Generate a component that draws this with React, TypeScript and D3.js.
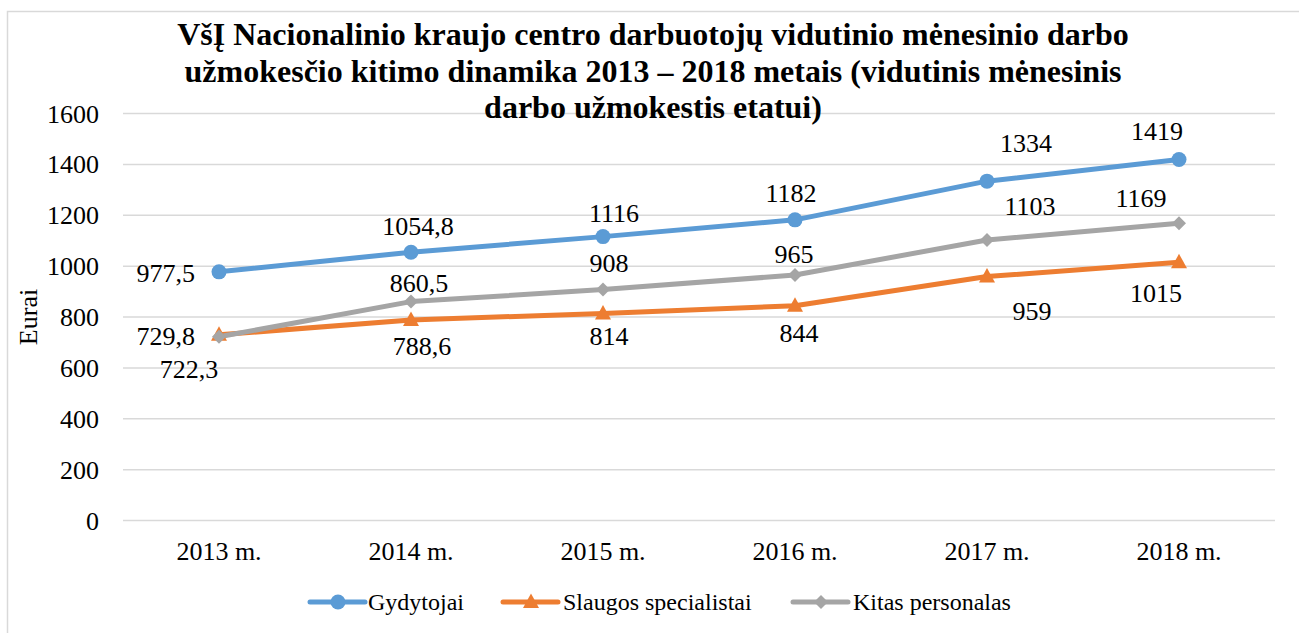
import React from "react";
import * as d3 from "d3";

const categories = ["2013 m.", "2014 m.", "2015 m.", "2016 m.", "2017 m.", "2018 m."];
const gydytojai = [977.5, 1054.8, 1116, 1182, 1334, 1419];
const slaugos = [729.8, 788.6, 814, 844, 959, 1015];
const kitas = [722.3, 860.5, 908, 965, 1103, 1169];
const yTicks = [0, 200, 400, 600, 800, 1000, 1200, 1400, 1600];
const titleLines = [
  "VšĮ Nacionalinio kraujo centro darbuotojų vidutinio mėnesinio darbo",
  "užmokesčio kitimo dinamika 2013 – 2018 metais (vidutinis mėnesinis",
  "darbo užmokestis etatui)",
];
const seriesNames = ["Gydytojai", "Slaugos specialistai", "Kitas personalas"];

// label placement (layout), relative to each point: [dx, dy, anchor]
const labelOffsets: [number, number, string][][] = [
  [[-24, 10, "end"], [7, -17, "middle"], [11, -15, "middle"], [-4, -18, "middle"], [39, -29, "middle"], [-22, -19.5, "middle"]],
  [[-24, 10, "end"], [11, 35, "middle"], [6, 32, "middle"], [4, 36, "middle"], [45, 43, "middle"], [-23, 40, "middle"]],
  [[-30, 41, "middle"], [8, -10, "middle"], [6, -17.5, "middle"], [-1, -12, "middle"], [43, -25, "middle"], [-38, -16, "middle"]],
];

const FONT = '"Liberation Serif", "Times New Roman", "DejaVu Serif", serif';
const colors = ["#5B9BD5", "#ED7D31", "#A5A5A5"];
const W = 1299;
const H = 633;
const ts = { fontFamily: FONT };

function fmt(v: number) {
  return String(v).replace(".", ",");
}

function Marker({ kind, x, y, color }: { kind: number; x: number; y: number; color: string }) {
  if (kind === 0) return <circle cx={x} cy={y} r={7.5} fill={color} />;
  if (kind === 1) {
    const p = d3.path();
    p.moveTo(x, y - 8.5);
    p.lineTo(x + 8, y + 6);
    p.lineTo(x - 8, y + 6);
    p.closePath();
    return <path d={p.toString()} fill={color} />;
  }
  const p = d3.path();
  p.moveTo(x, y - 7);
  p.lineTo(x + 7, y);
  p.lineTo(x, y + 7);
  p.lineTo(x - 7, y);
  p.closePath();
  return <path d={p.toString()} fill={color} />;
}

export default function App() {
  const x = d3.scaleBand<string>().domain(categories).range([123, 1275]);
  const cx = (c: string) => (x(c) as number) + x.bandwidth() / 2;
  const y = d3.scaleLinear().domain([0, 1600]).range([520.5, 113.5]);
  const series = [gydytojai, slaugos, kitas];
  const line = d3
    .line<number>()
    .x((_, i) => cx(categories[i]))
    .y((d) => y(d));

  const legendItems = [
    { lx: 310, tx: 368 },
    { lx: 503, tx: 563 },
    { lx: 793, tx: 853 },
  ];

  return (
    <svg
      width={W}
      height={H}
      style={{ position: "absolute", left: 0, top: 0, background: "#fff", fontFamily: FONT }}
    >
      <rect x={0} y={0} width={W} height={H} fill="#fff" />
      <rect x={7.5} y={11.5} width={W + 10} height={H + 10} fill="none" stroke="#D9D9D9" strokeWidth={1.5} />

      {yTicks.map((t) => (
        <line key={t} x1={123} x2={1275} y1={y(t)} y2={y(t)} stroke="#D9D9D9" strokeWidth={1.5} />
      ))}

      {yTicks.map((t) => (
        <text key={"yl" + t} x={99} y={y(t) + 9} textAnchor="end" fontSize={26} fill="#000" style={ts}>
          {t}
        </text>
      ))}

      <text transform="translate(37,317) rotate(-90)" textAnchor="middle" fontSize={26} fill="#000" style={ts}>
        Eurai
      </text>

      {categories.map((c) => (
        <text key={c} x={cx(c)} y={560} textAnchor="middle" fontSize={26} fill="#000" style={ts}>
          {c}
        </text>
      ))}

      {titleLines.map((t, i) => (
        <text key={i} x={653} y={45 + i * 36.5} textAnchor="middle" fontSize={32} fontWeight="bold" fill="#000" style={ts}>
          {t}
        </text>
      ))}

      {series.map((s, si) => (
        <path key={"l" + si} d={line(s) as string} fill="none" stroke={colors[si]} strokeWidth={5} strokeLinejoin="round" strokeLinecap="round" />
      ))}

      {series.map((s, si) =>
        s.map((v, i) => <Marker key={"m" + si + i} kind={si} x={cx(categories[i])} y={y(v)} color={colors[si]} />)
      )}

      {series.map((s, si) =>
        s.map((v, i) => {
          const [dx, dy, anchor] = labelOffsets[si][i];
          return (
            <text key={"d" + si + i} x={cx(categories[i]) + dx} y={y(v) + dy} textAnchor={anchor} fontSize={26} fill="#000" style={ts}>
              {fmt(v)}
            </text>
          );
        })
      )}

      {legendItems.map((it, i) => (
        <g key={"lg" + i}>
          <line x1={it.lx} x2={it.lx + 55} y1={602} y2={602} stroke={colors[i]} strokeWidth={5} strokeLinecap="round" />
          <Marker kind={i} x={it.lx + 28} y={602} color={colors[i]} />
          <text x={it.tx} y={610} fontSize={24} fill="#000" style={ts}>
            {seriesNames[i]}
          </text>
        </g>
      ))}
    </svg>
  );
}
